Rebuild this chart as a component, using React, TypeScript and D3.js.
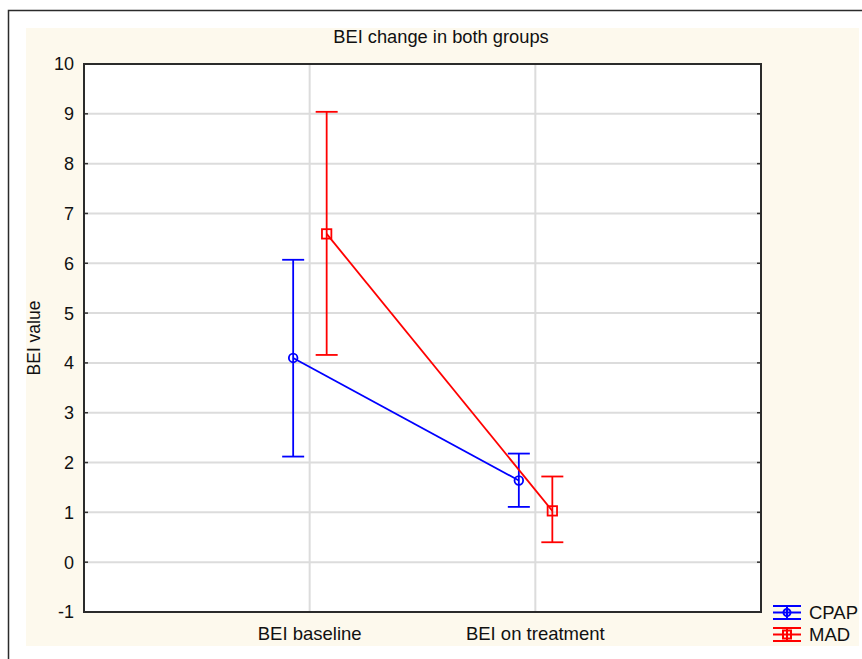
import { useEffect, useRef } from 'react'
import * as d3 from 'd3'

const categories = ['BEI baseline', 'BEI on treatment']
const groups = ['CPAP', 'MAD']
const groupColors = ['#0000ff', '#ff0000']

// mean, lower, upper per category
const cpapMean = [4.1, 1.64]
const cpapLow = [2.12, 1.11]
const cpapHigh = [6.07, 2.18]
const madMean = [6.59, 1.03]
const madLow = [4.16, 0.4]
const madHigh = [9.04, 1.72]

const yTicks = [-1, 0, 1, 2, 3, 4, 5, 6, 7, 8, 9, 10]

export default function App() {
  const ref = useRef<SVGSVGElement>(null)

  useEffect(() => {
    const svg = d3.select(ref.current)
    svg.selectAll('*').remove()

    const width = 862, height = 659
    const margin = { top: 64, right: 101, bottom: 47, left: 84 }
    const font = '"Liberation Sans", Arial, sans-serif'
    const sw = 1.8

    // outer frame + cream panel
    svg.append('rect').attr('x', 0).attr('y', 0).attr('width', width).attr('height', height).attr('fill', '#fff')
    svg.append('rect').attr('x', 8.5).attr('y', 10.5).attr('width', width).attr('height', height)
      .attr('fill', '#fff').attr('stroke', '#2b2b2b').attr('stroke-width', 1.5)
    svg.append('rect').attr('x', 26).attr('y', 28).attr('width', 833).attr('height', 618).attr('fill', '#fdf9ed')

    const x = d3.scalePoint().domain(categories).range([margin.left, width - margin.right]).padding(1)
    const y = d3.scaleLinear().domain([-1, 10]).range([height - margin.bottom, margin.top])

    svg.append('rect')
      .attr('x', margin.left).attr('y', margin.top)
      .attr('width', width - margin.left - margin.right)
      .attr('height', height - margin.top - margin.bottom)
      .attr('fill', '#fff')

    // grid
    svg.append('g').selectAll('line').data(yTicks.slice(1, -1)).enter().append('line')
      .attr('x1', margin.left).attr('x2', width - margin.right)
      .attr('y1', d => y(d)).attr('y2', d => y(d))
      .attr('stroke', '#dcdcdc').attr('stroke-width', 2)
    svg.append('g').selectAll('line').data(categories).enter().append('line')
      .attr('x1', d => x(d)!).attr('x2', d => x(d)!)
      .attr('y1', margin.top).attr('y2', height - margin.bottom)
      .attr('stroke', '#dcdcdc').attr('stroke-width', 2)

    // inward ticks both sides
    const tk = svg.append('g')
    yTicks.forEach(t => {
      tk.append('line').attr('x1', margin.left).attr('x2', margin.left + 4)
        .attr('y1', y(t)).attr('y2', y(t)).attr('stroke', '#333').attr('stroke-width', 1.5)
      tk.append('line').attr('x1', width - margin.right - 4).attr('x2', width - margin.right)
        .attr('y1', y(t)).attr('y2', y(t)).attr('stroke', '#333').attr('stroke-width', 1.5)
      tk.append('text').attr('x', 74).attr('y', y(t)).attr('dy', '0.36em')
        .attr('text-anchor', 'end').attr('font-family', font).attr('font-size', 18)
        .attr('fill', '#111').text(t)
    })

    categories.forEach(c => {
      svg.append('text').attr('x', x(c)!).attr('y', 640)
        .attr('text-anchor', 'middle').attr('font-family', font).attr('font-size', 18.5)
        .attr('fill', '#111').text(c)
    })

    // plot border
    svg.append('rect')
      .attr('x', margin.left).attr('y', margin.top)
      .attr('width', width - margin.left - margin.right)
      .attr('height', height - margin.top - margin.bottom)
      .attr('fill', 'none').attr('stroke', '#2b2b2b').attr('stroke-width', 2)

    // title and y label
    svg.append('text').attr('x', 441).attr('y', 43).attr('text-anchor', 'middle')
      .attr('font-family', font).attr('font-size', 18.3).attr('fill', '#111')
      .text('BEI change in both groups')
    svg.append('text').attr('transform', `translate(40,${(margin.top + height - margin.bottom) / 2}) rotate(-90)`)
      .attr('text-anchor', 'middle').attr('font-family', font).attr('font-size', 17.5)
      .attr('fill', '#111').text('BEI value')

    const series = [
      { mean: cpapMean, low: cpapLow, high: cpapHigh, off: -16.5 },
      { mean: madMean, low: madLow, high: madHigh, off: 17 },
    ]
    const cap = 11

    series.forEach((s, gi) => {
      const color = groupColors[gi]
      const g = svg.append('g')
      const px = (i: number) => x(categories[i])! + s.off
      const line = d3.line<number>().x((_, i) => px(i)).y(d => y(d))
      g.append('path').attr('d', line(s.mean)).attr('fill', 'none')
        .attr('stroke', color).attr('stroke-width', sw)
      s.mean.forEach((m, i) => {
        const cx = px(i)
        g.append('line').attr('x1', cx).attr('x2', cx).attr('y1', y(s.low[i])).attr('y2', y(s.high[i]))
          .attr('stroke', color).attr('stroke-width', sw)
        ;[s.low[i], s.high[i]].forEach(v => {
          g.append('line').attr('x1', cx - cap).attr('x2', cx + cap).attr('y1', y(v)).attr('y2', y(v))
            .attr('stroke', color).attr('stroke-width', sw)
        })
        if (gi === 0) {
          g.append('circle').attr('cx', cx).attr('cy', y(m)).attr('r', 4.3)
            .attr('fill', 'none').attr('stroke', color).attr('stroke-width', sw)
        } else {
          g.append('rect').attr('x', cx - 4.7).attr('y', y(m) - 4.7).attr('width', 9.4).attr('height', 9.4)
            .attr('fill', 'none').attr('stroke', color).attr('stroke-width', sw)
        }
      })
    })

    // legend
    const legY = [612.5, 634.5]
    groups.forEach((name, gi) => {
      const color = groupColors[gi]
      const g = svg.append('g')
      const cy = legY[gi]
      const x0 = 773, x1 = 801, cx = 787
      ;[-6.5, 0, 6.5].forEach(d => {
        g.append('line').attr('x1', x0).attr('x2', x1).attr('y1', cy + d).attr('y2', cy + d)
          .attr('stroke', color).attr('stroke-width', 2)
      })
      g.append('line').attr('x1', cx).attr('x2', cx).attr('y1', cy - 6.5).attr('y2', cy + 6.5)
        .attr('stroke', color).attr('stroke-width', 2)
      if (gi === 0) {
        g.append('circle').attr('cx', cx).attr('cy', cy).attr('r', 3.5)
          .attr('fill', 'none').attr('stroke', color).attr('stroke-width', 2)
      } else {
        g.append('rect').attr('x', cx - 4).attr('y', cy - 4).attr('width', 8).attr('height', 8)
          .attr('fill', 'none').attr('stroke', color).attr('stroke-width', 2)
      }
      g.append('text').attr('x', 809).attr('y', cy).attr('dy', '0.36em')
        .attr('font-family', font).attr('font-size', 18.5).attr('fill', '#111').text(name)
    })
  }, [])

  return (
    <svg ref={ref} width={862} height={659}
      style={{ position: 'absolute', left: 0, top: 0, display: 'block' }} />
  )
}
